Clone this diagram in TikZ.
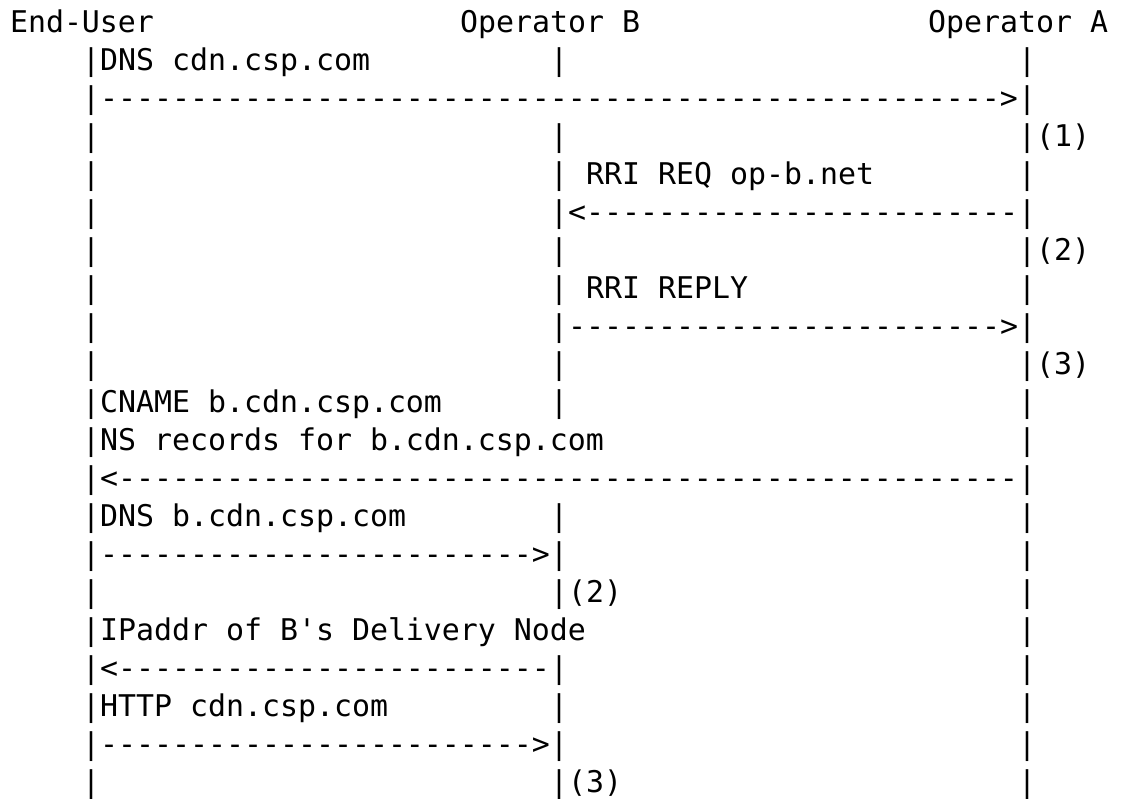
\documentclass[tikz,border=0pt]{standalone}
\usepackage{fontspec}
\setmonofont{DejaVu Sans Mono}
\begin{document}
% Character grid: 18pt per column, 38pt per row, first baseline 32pt from the top
\newcommand\seqtext[4]{\node[glyphs] (#1) at ({10+18*#3},{-32-38*#2}) {#4};}
% a run of #1 hyphens
\newcommand\dashrun[1]{\foreach \i in {1,...,#1}{-}}
\begin{tikzpicture}[x=1pt,y=1pt,
  glyphs/.style={font=\ttfamily\frenchspacing\fontsize{29.9pt}{38pt}\selectfont,
    inner sep=0pt, outer sep=0pt, anchor=base west, text=black}]
\fill[white] (0,0) rectangle (1123,-798);
\useasboundingbox (0,0) rectangle (1123,-798);

% column headings
\seqtext{hdr-eu}{0}{0}{End-User}
\seqtext{hdr-b}{0}{25}{Operator B}
\seqtext{hdr-a}{0}{51}{Operator A}

% lifelines
\foreach \r in {1,...,20} {
  \seqtext{eu-\r}{\r}{4}{|}
  \seqtext{a-\r}{\r}{56}{|}
}
\foreach \r in {1,3,4,5,6,7,8,9,10,13,14,15,17,18,19,20} {
  \seqtext{b-\r}{\r}{30}{|}
}

% messages
\seqtext{m1}{1}{5}{DNS cdn.csp.com}
\seqtext{m1arrow}{2}{5}{\dashrun{50}>}
\seqtext{s1a}{3}{57}{(1)}
\seqtext{m2}{4}{32}{RRI REQ op-b.net}
\seqtext{m2arrow}{5}{31}{<\dashrun{24}}
\seqtext{s2a}{6}{57}{(2)}
\seqtext{m3}{7}{32}{RRI REPLY}
\seqtext{m3arrow}{8}{31}{\dashrun{24}>}
\seqtext{s3a}{9}{57}{(3)}
\seqtext{m4a}{10}{5}{CNAME b.cdn.csp.com}
\seqtext{m4b}{11}{5}{NS records for b.cdn.csp.com}
\seqtext{m4arrow}{12}{5}{<\dashrun{50}}
\seqtext{m5}{13}{5}{DNS b.cdn.csp.com}
\seqtext{m5arrow}{14}{5}{\dashrun{24}>}
\seqtext{s2b}{15}{31}{(2)}
\seqtext{m6}{16}{5}{IPaddr of B's Delivery Node}
\seqtext{m6arrow}{17}{5}{<\dashrun{24}}
\seqtext{m7}{18}{5}{HTTP cdn.csp.com}
\seqtext{m7arrow}{19}{5}{\dashrun{24}>}
\seqtext{s3b}{20}{31}{(3)}
\end{tikzpicture}
\end{document}
